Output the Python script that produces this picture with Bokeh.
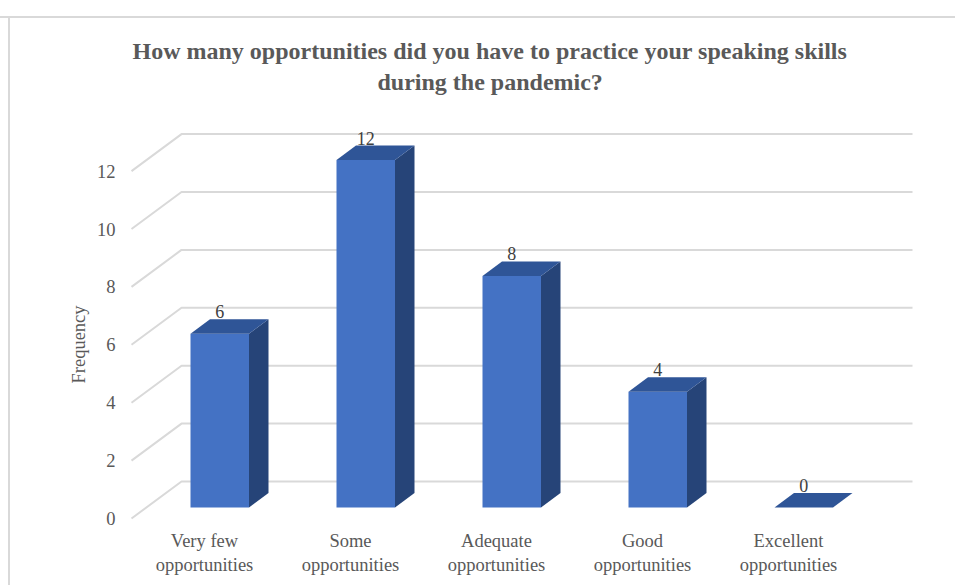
from bokeh.plotting import figure
from bokeh.embed import file_html
from bokeh.resources import INLINE
from bokeh.models import Range1d, FixedTicker, Title
from bokeh.core.properties import value

categories = ["Very few\nopportunities", "Some\nopportunities", "Adequate\nopportunities",
              "Good\nopportunities", "Excellent\nopportunities"]
frequency = [6, 12, 8, 4, 0]
y_ticks = [0, 2, 4, 6, 8, 10, 12]
title_lines = ["How many opportunities did you have to practice your speaking skills",
               "during the pandemic?"]
y_label = "Frequency"

FONT = "Liberation Serif"
GREY = "#595959"
W, H = 955, 585
L, R, T, B = 125, 925, 97, 525   # frame in page px
X0 = 204.0
PX_X, PX_Y = 146.0, 28.95         # pixels per category / per unit

x0 = (L - X0) / PX_X
x1 = (R - X0) / PX_X
y0 = (518 - B) / PX_Y
y1 = (518 - T) / PX_Y

p = figure(frame_width=R - L, frame_height=B - T, output_backend="svg", toolbar_location=None,
           x_range=Range1d(x0, x1), y_range=Range1d(y0, y1),
           min_border_left=L, min_border_right=W - R, min_border_top=T, min_border_bottom=H - B,
           background_fill_color="white", border_fill_color=None, outline_line_color=None)
p.grid.visible = False
p.title = None
# chart border: top and left edges of the chart area
p.styles = {"background": "linear-gradient(#D9D9D9,#D9D9D9) 0 16px / 100% 2px no-repeat, "
                          "linear-gradient(#D9D9D9,#D9D9D9) 8px 16px / 2px 100% no-repeat"}

# walls
gx_f, gx_b, gx_e = (131 - X0) / PX_X, (181 - X0) / PX_X, (912 - X0) / PX_X
gy_d = 37 / PX_Y
p.multi_line([[gx_f, gx_b, gx_e] for _ in y_ticks],
             [[t, t + gy_d, t + gy_d] for t in y_ticks],
             line_color="#D9D9D9", line_width=2)

# 3-D bars
bar_l, bar_w = (190 - X0) / PX_X, 58.5 / PX_X
base = 11 / PX_Y
dx, dy = 19.5 / PX_X, 14.5 / PX_Y
idx = list(range(len(frequency)))
front_x = [[i + bar_l, i + bar_l + bar_w, i + bar_l + bar_w, i + bar_l] for i in idx]
front_y = [[base, base, f + base, f + base] for f in frequency]
side_x = [[i + bar_l + bar_w, i + bar_l + bar_w + dx, i + bar_l + bar_w + dx, i + bar_l + bar_w] for i in idx]
side_y = [[base, base + dy, f + base + dy, f + base] for f in frequency]
top_x = [[i + bar_l, i + bar_l + bar_w, i + bar_l + bar_w + dx, i + bar_l + dx] for i in idx]
top_y = [[f + base, f + base, f + base + dy, f + base + dy] for f in frequency]
p.patches(side_x, side_y, fill_color="#264478", line_color=None)
p.patches(front_x, front_y, fill_color="#4472C4", line_color=None)
p.patches(top_x, top_y, fill_color="#2F5597", line_color=None)

# value labels
p.text([i + bar_l + bar_w / 2 for i in idx], [f + base for f in frequency],
       text=[str(f) for f in frequency], text_font=value(FONT), text_font_size="18px",
       text_color="#404040", text_align="center", text_baseline="middle", y_offset=-22)

# axes
xa = p.xaxis[0]
xa.ticker = FixedTicker(ticks=idx)
xa.major_label_overrides = {i: c for i, c in zip(idx, categories)}
ya = p.yaxis[0]
ya.ticker = FixedTicker(ticks=y_ticks)
for a in (xa, ya):
    a.axis_line_color = None
    a.major_tick_line_color = None
    a.minor_tick_line_color = None
    a.major_label_text_font = FONT
    a.major_label_text_font_size = "18.5px"
    a.major_label_text_color = GREY
xa.major_label_standoff = -1
xa.major_label_orientation = "horizontal"
ya.major_label_standoff = 4

# axis title
p.add_layout(Title(text=y_label, align="left", text_font=FONT, text_font_size="18.5px",
                   text_font_style="normal", text_color=GREY, offset=142, standoff=9), "left")

# chart title
for line, off, gap in zip(reversed(title_lines), (252, 7), (5, 1)):
    p.add_layout(Title(text=line, align="left", text_font=FONT, text_font_size="24px",
                       text_font_style="bold", text_color=GREY, offset=off, standoff=gap), "above")

open("out.html", "w").write(file_html(p, INLINE))
